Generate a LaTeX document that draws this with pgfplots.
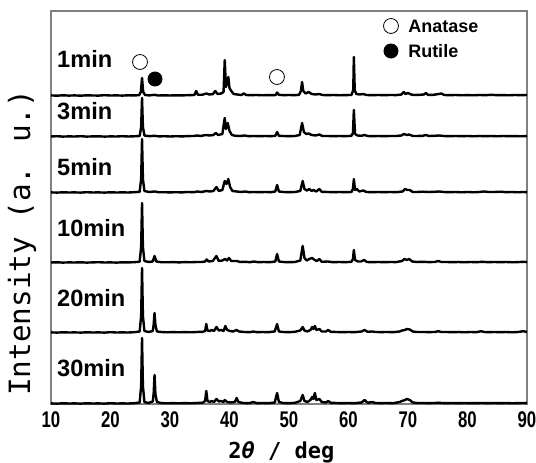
\documentclass[border=0pt]{standalone}
\usepackage{fontspec}
\setmainfont{Liberation Sans}
\newfontfamily\gothic{DejaVu Sans Mono}
\usepackage{graphicx}
\usepackage{pgfplots}
\pgfplotsset{compat=1.18}
\newcommand\tk[1]{\scalebox{0.74}[1]{#1}}

\begin{document}
\begin{tikzpicture}
\begin{axis}[
  scale only axis, width=357pt, height=294.75pt,
  xmin=10, xmax=90, ymin=0, ymax=393,
  xtick={10,20,30,40,50,60,70,80,90},
  xticklabels={\tk{10},\tk{20},\tk{30},\tk{40},\tk{50},\tk{60},\tk{70},\tk{80},\tk{90}},
  ytick=\empty, major tick length=0pt,
  xticklabel style={font=\bfseries\fontsize{17}{18}\selectfont, yshift=-2pt},
  axis line style={gray, line width=1pt},
  xlabel={2{\itshape θ} / deg},
  xlabel style={font=\gothic\bfseries\fontsize{16.5}{18}\selectfont, at={(axis description cs:0.484,-0.122)}, anchor=center},
  ylabel={Intensity (a. u.)},
  ylabel style={font=\gothic\fontsize{22}{24}\selectfont, at={(axis description cs:-0.061,0.41)}, anchor=center},
  clip=false,
  every axis plot/.append style={black, line width=1.8pt, line join=round},
]
% 1 min
\addplot[y filter/.expression={y+308}] coordinates {
(10,0.6)(11,0.3)(12,0.7)(13,0.4)(14,0.6)(15,0.3)(16,0.7)(17,0.5)(18,0.4)(19,0.8)(20,0.5)(21,0.6)(22,0.4)(23,0.7)(24,0.6)(24.8,0.8)(25.1,4)(25.3,18)(25.5,4)(25.8,1)(26.5,0.6)(27.4,1.2)(28,0.5)(29,0.7)(30,0.5)(31,0.7)(32,0.6)(33,0.8)(34.1,1)(34.4,5)(34.7,1.2)(35.4,1.2)(36.1,2.5)(36.6,1.5)(37.2,1.8)(37.6,5)(38.0,2)(38.6,2.5)(39.0,4)(39.2,36)(39.4,9)(39.6,13)(39.8,19)(40.0,8)(40.3,5)(40.7,2)(41.3,1.5)(42.0,1)(42.4,2.5)(42.8,1)(43.5,0.8)(44.5,1)(45.5,0.7)(46.5,0.9)(47.5,0.8)(47.8,1.2)(48.0,3.5)(48.3,1.2)(49,0.8)(50,1)(51,0.8)(51.7,1.2)(52.0,5)(52.2,14)(52.4,5)(52.8,2.5)(53.3,4)(53.8,2)(54.5,1.5)(55.1,2)(55.6,1)(56.5,0.8)(57.5,1)(58.5,0.7)(59.5,0.9)(60.5,1)(60.8,6)(60.9,39)(61.05,6)(61.3,2)(61.9,1.5)(62.5,2)(63,1)(64,0.8)(65,1)(66,0.8)(67,1)(68,0.9)(68.9,1.5)(69.3,4)(69.6,2)(70.0,3)(70.5,1.5)(71,1)(72,1.2)(72.7,1.5)(73.0,3)(73.4,1)(74.3,1.2)(75.2,2)(75.6,2.5)(76.1,1)(77,0.8)(78,1)(79,0.7)(80,0.9)(81,0.7)(82,1)(83,0.8)(84,1.2)(85,0.8)(86,0.9)(87,0.7)(88,1)(89,0.8)(90,1)};
% 3 min
\addplot[y filter/.expression={y+267}] coordinates {
(10,0.5)(11,0.8)(12,0.4)(13,0.6)(14,0.5)(15,0.8)(16,0.4)(17,0.6)(18,0.7)(19,0.4)(20,0.6)(21,0.5)(22,0.8)(23,0.5)(24,0.7)(24.9,1)(25.15,10)(25.3,39)(25.45,10)(25.7,1.5)(26.5,0.8)(27.4,1.2)(28.2,0.6)(29,0.8)(30,0.5)(31,0.8)(32,0.6)(33,0.9)(34,1)(34.5,1.5)(35.2,1)(36.0,2)(36.6,1.5)(37.3,2)(37.7,4)(38.1,2)(38.8,3)(39.2,19)(39.4,8)(39.7,14)(40.0,6)(40.4,2)(41,1.2)(41.8,1)(42.5,1.5)(43.2,0.8)(44,1)(45,0.8)(46,1)(47,0.8)(47.7,1.2)(48.0,5)(48.3,1.2)(49,1)(50,0.8)(51,1)(51.8,2)(52.2,14)(52.5,5)(52.9,3)(53.3,3.5)(53.8,2)(54.5,1.5)(55.1,2.5)(55.6,1)(56.5,1)(57.5,0.8)(58.5,1)(59.5,0.8)(60.5,1.2)(60.75,4)(60.9,27)(61.1,3)(61.5,1.5)(62.2,1.2)(62.7,2)(63.2,1)(64,0.8)(65,1)(66,0.8)(67,1)(68,1)(68.9,1.5)(69.3,3)(69.8,2)(70.2,2.5)(70.8,1)(71.5,1)(72.5,1.2)(73,2)(73.5,1)(74.5,1.2)(75.2,1.5)(76,1)(77,0.8)(78,1)(79,0.8)(80,1)(81,0.7)(82,1)(83,0.8)(84,1)(85,0.7)(86,1)(87,0.8)(88,0.9)(89,0.7)(90,1)};
% 5 min
\addplot[y filter/.expression={y+211}] coordinates {
(10,0.6)(11,0.4)(12,0.7)(13,0.5)(14,0.6)(15,0.4)(16,0.8)(17,0.5)(18,0.6)(19,0.4)(20,0.7)(21,0.5)(22,0.6)(23,0.5)(24,0.8)(24.9,1.2)(25.15,14)(25.3,54)(25.45,14)(25.7,2)(26.5,1)(27.4,1.5)(28.2,0.7)(29,0.8)(30,0.6)(31,0.8)(32,0.6)(33,1)(34,0.8)(34.6,1.5)(35.3,1)(36.1,2)(36.7,1.5)(37.3,2)(37.8,6)(38.2,2)(38.8,3)(39.2,12)(39.5,9)(39.8,14)(40.1,6)(40.5,2)(41.2,1.5)(42,1)(42.6,1.5)(43.3,0.8)(44,1)(45,0.8)(46,1)(47,0.8)(47.7,1.5)(48.0,8)(48.3,1.5)(49,1)(50,0.8)(51,1)(51.9,2)(52.3,12)(52.6,4)(53.0,2.5)(53.4,4)(53.8,2)(54.1,3)(54.6,1.5)(55.1,4)(55.5,1.2)(56.5,1)(57.5,0.8)(58.5,1)(59.5,0.8)(60.5,1)(60.75,4)(60.9,14)(61.1,3)(61.4,4)(61.8,1.5)(62.5,2.5)(63,1)(64,0.8)(65,1)(66,0.8)(67,1)(68,0.8)(69.1,1.5)(69.5,4)(69.9,3)(70.3,3)(70.8,1)(71.5,1)(72.5,1.3)(73.5,1)(74.5,1.2)(75.2,1.5)(76,1)(77,0.8)(78,1)(79,0.7)(80,1)(81,0.7)(82,1)(82.8,1.5)(83.5,1)(84.5,1)(85.5,1.3)(86.5,0.8)(87.5,1)(88.5,0.7)(89.3,1)(90,0.8)};
% 10 min
\addplot[y filter/.expression={y+141}] coordinates {
(10,0.5)(11,0.7)(12,0.4)(13,0.6)(14,0.5)(15,0.7)(16,0.4)(17,0.6)(18,0.8)(19,0.5)(20,0.6)(21,0.4)(22,0.7)(23,0.6)(24,0.8)(24.9,1.3)(25.15,16)(25.3,60)(25.45,16)(25.7,2)(26.4,1)(27.1,1.5)(27.4,7)(27.7,1.5)(28.5,0.8)(29.5,0.7)(30.5,0.9)(31.5,0.6)(32.5,0.9)(33.5,0.7)(34.5,1)(35.3,1)(35.9,1.5)(36.15,3.5)(36.5,1.5)(37.2,2)(37.8,7)(38.2,2)(38.8,2.5)(39.25,4)(39.6,2.5)(39.9,5)(40.3,2)(41.2,2)(41.8,1)(42.6,1.2)(43.5,0.8)(44.1,1.5)(44.8,0.8)(45.8,1)(46.8,0.8)(47.7,1.5)(48.0,9)(48.3,1.5)(49,1)(50,0.8)(51,1)(51.9,2.5)(52.3,17)(52.6,5)(53.0,2.5)(53.4,4)(53.9,5)(54.3,3)(54.7,2)(55.1,4)(55.5,1.2)(56.5,1.5)(57.3,0.8)(58.5,1)(59.5,0.8)(60.5,1.2)(60.75,4)(60.9,13)(61.1,3)(61.6,1.5)(62.1,1.5)(62.6,3)(63.1,1)(64,0.8)(65,1)(66,0.8)(67,1)(68,0.9)(69.0,2)(69.4,4)(69.8,3)(70.2,4)(70.7,1.5)(71.5,1)(72.5,1.2)(73.5,0.9)(74.5,1)(75.1,2)(75.6,1)(76.5,1)(77.5,0.8)(78.5,1)(79.5,0.7)(80.5,1)(81.5,0.8)(82.5,1.2)(83.5,0.8)(84.5,1)(85.5,0.8)(86.5,1)(87.5,0.7)(88.5,0.9)(89.4,1.2)(90,0.9)};
% 20 min
\addplot[y filter/.expression={y+71}] coordinates {
(10,0.6)(11,0.4)(12,0.7)(13,0.5)(14,0.6)(15,0.4)(16,0.7)(17,0.5)(18,0.6)(19,0.4)(20,0.8)(21,0.5)(22,0.6)(23,0.5)(24,0.8)(24.9,1.5)(25.15,17)(25.3,65)(25.45,17)(25.7,2)(26.4,1)(27.1,2)(27.25,8)(27.4,20)(27.55,8)(27.8,1.5)(28.5,1)(29.5,0.7)(30.5,0.9)(31.5,0.7)(32.5,0.9)(33.5,0.7)(34.5,1)(35.5,1.2)(35.9,2)(36.1,9)(36.3,2.5)(36.7,2)(37.0,3)(37.4,2)(37.8,6)(38.2,2.5)(38.6,3)(39.0,2)(39.3,7)(39.6,3)(40.1,2)(40.6,1.5)(41.2,3)(41.6,1.5)(42.5,1)(43.4,0.8)(44.0,1.5)(44.6,0.8)(45.5,1)(46.5,0.8)(47.6,1.5)(48.0,9)(48.3,1.5)(49,1)(50,0.8)(51,1.2)(51.9,2.5)(52.3,6)(52.6,2.5)(53.1,1.5)(53.6,3)(53.9,6)(54.1,4)(54.35,7)(54.6,3)(55.1,4)(55.5,1.5)(56.2,1.5)(56.6,3)(57,1.2)(58,1)(59,0.8)(60,1)(61,0.8)(62.2,1.5)(62.7,3)(63.2,1.2)(64,1.5)(64.5,1)(65.5,0.9)(66.5,1)(67.5,0.8)(68.6,1.5)(69.0,2.5)(69.5,3)(69.8,4)(70.3,3.5)(70.8,1.5)(71.5,1)(72.5,1)(73.5,0.9)(74.5,1)(75.1,1.8)(75.6,1)(76.5,1)(77.5,0.8)(78.5,1)(79.5,0.7)(80.5,1)(81.5,0.8)(82.3,1.8)(82.8,1)(83.5,0.8)(84.5,1)(85.5,0.8)(86.5,1)(87.5,0.7)(88.5,1)(89.4,1.8)(90,1)};
% 30 min
\addplot[] coordinates {
(10,0.6)(11,0.4)(12,0.7)(13,0.5)(14,0.6)(15,0.4)(16,0.7)(17,0.5)(18,0.6)(19,0.4)(20,0.8)(21,0.5)(22,0.6)(23,0.5)(24,0.8)(24.9,1.5)(25.15,18)(25.3,66)(25.45,18)(25.7,2)(26.4,1)(27.1,2.5)(27.25,10)(27.4,29)(27.55,10)(27.8,2)(28.5,1)(29.5,0.7)(30.5,0.9)(31.5,0.7)(32.5,0.9)(33.5,0.7)(34.5,1)(35.5,1.3)(35.9,3)(36.1,13)(36.3,3)(36.7,2)(37.0,3)(37.4,2)(37.8,5)(38.2,2.5)(38.6,3)(39.0,2)(39.2,4)(39.6,2)(40.2,1.5)(40.9,2)(41.2,6)(41.5,2)(42.3,1)(43.3,0.8)(44.0,2)(44.6,0.8)(45.5,1)(46.5,0.8)(47.6,1.5)(48.0,11)(48.3,2)(49,1)(50,0.8)(51,1.2)(51.9,3)(52.3,9)(52.6,3)(53.1,2)(53.6,4)(53.9,7)(54.1,5)(54.35,11)(54.6,4)(55.1,5)(55.5,2)(56.2,1.5)(56.6,3)(57,1.2)(58,1)(59,0.8)(60,1)(61,0.8)(62.2,1.5)(62.7,4)(63.2,1.2)(64,2)(64.5,1)(65.5,0.9)(66.5,1)(67.5,0.8)(68.6,2)(69.0,3)(69.5,4)(69.8,5)(70.3,4)(70.8,1.5)(71.5,1)(72.5,1)(73.5,0.9)(74.5,1)(75.1,1.3)(75.6,1)(76.5,0.8)(77.5,1)(78.5,0.8)(79.5,1)(80.5,0.8)(81.5,0.9)(82.5,1)(83.5,0.8)(84.5,1)(85.5,0.8)(86.5,1)(87.5,0.7)(88.5,0.9)(89.5,1)(90,0.8)};
% phase markers and key
\addplot[only marks, mark=o, mark size=5.6pt, line width=0.6pt] coordinates {(24.96,342)(47.98,327)(67.14,378)};
\addplot[only marks, mark=*, mark size=5.3pt, line width=0.6pt] coordinates {(27.48,325)(67.14,353)};
\node[anchor=west, inner sep=0pt, font=\bfseries\fontsize{13.5}{15}\selectfont] at (axis cs:70.0,378) {Anatase};
\node[anchor=west, inner sep=0pt, font=\bfseries\fontsize{13.5}{15}\selectfont] at (axis cs:70.0,353) {Rutile};
% sample labels
\begin{scope}[every node/.style={anchor=west, inner sep=0pt, font=\bfseries\fontsize{17.7}{20}\selectfont}]
\node at (axis cs:11.0,345) {1min};
\node at (axis cs:11.0,293) {3min};
\node at (axis cs:11.0,237) {5min};
\node at (axis cs:11.0,176) {10min};
\node at (axis cs:11.0,106) {20min};
\node at (axis cs:11.0,36) {30min};
\end{scope}
\end{axis}
\pgfresetboundingbox
\path (current axis.south west) ++(-38.25pt,-44.25pt) rectangle ++(402pt,347.25pt);
\end{tikzpicture}
\end{document}
